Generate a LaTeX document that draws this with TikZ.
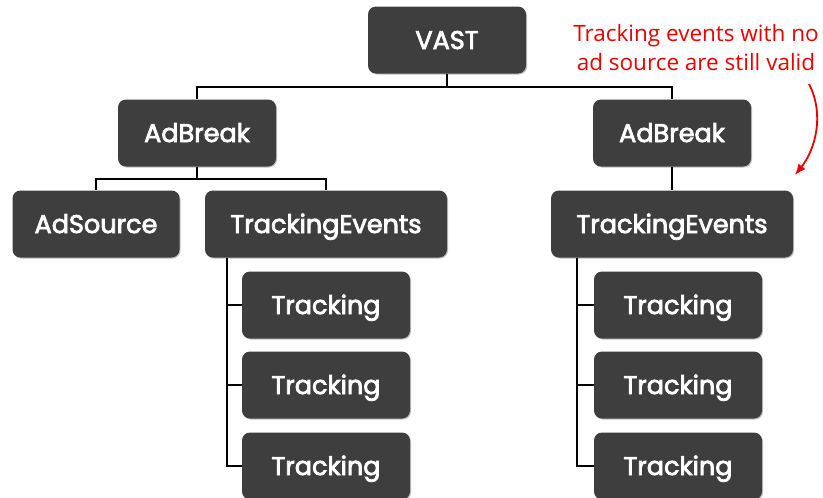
\documentclass[tikz,border=0pt]{standalone}
\usepackage{fontspec}
\newfontfamily\boxfont{Poppins}[FakeBold=3]
\newfontfamily\notefont{Open Sans}
\usetikzlibrary{shadows,arrows.meta}
\definecolor{boxgray}{RGB}{62,62,62}
\definecolor{notered}{RGB}{235,0,0}
\begin{document}
\begin{tikzpicture}[x=1pt,y=-1pt,
  box/.style={draw=none, fill=boxgray, rounded corners=8pt, minimum height=67pt,
    text=white, font=\boxfont\fontsize{25.5}{28}\selectfont, inner sep=0pt,
    text height=18pt, text depth=0pt,
    drop shadow={shadow xshift=1pt, shadow yshift=-1pt, opacity=0.25, fill=black}},
  link/.style={draw=black, line width=1.4pt},
  note/.style={text=notered, font=\notefont\fontsize{22.5}{29}\selectfont, align=center, inner sep=0pt}]
\useasboundingbox (0,0) rectangle (823,498);
\fill[white] (0,0) rectangle (823,498);
% nodes
\node[box, minimum width=158pt] (vast) at (447,40) {VAST};
\node[box, minimum width=158pt] (ab1) at (197,133) {AdBreak};
\node[box, minimum width=158pt] (ab2) at (672,133) {AdBreak};
\node[box, minimum width=167pt] (src) at (96,224) {AdSource};
\node[box, minimum width=242pt] (te1) at (326,224) {TrackingEvents};
\node[box, minimum width=242pt] (te2) at (672,224) {TrackingEvents};
\node[box, minimum width=168pt] (t11) at (326,305) {Tracking};
\node[box, minimum width=168pt] (t12) at (326,385) {Tracking};
\node[box, minimum width=168pt] (t13) at (326,466) {Tracking};
\node[box, minimum width=168pt] (t21) at (678,305) {Tracking};
\node[box, minimum width=168pt] (t22) at (678,385) {Tracking};
\node[box, minimum width=168pt] (t23) at (678,466) {Tracking};
% junction coordinates
\coordinate (j0) at (0,87);
\coordinate (j1) at (0,179);
\coordinate (x1) at (227,0);
\coordinate (x2) at (577,0);
% connectors
\draw[link] (vast.south) -- (vast.south |- j0) -| (ab1.north);
\draw[link] (vast.south |- j0) -| (ab2.north);
\draw[link] (ab1.south) -- (ab1.south |- j1) -| (src.north);
\draw[link] (ab1.south |- j1) -| (te1.north);
\draw[link] (ab2.south) -- (te2.north);
\draw[link] (x1 |- te1.south) |- (t13.west);
\draw[link] (x1 |- t11.west) -- (t11.west);
\draw[link] (x1 |- t12.west) -- (t12.west);
\draw[link] (x2 |- te2.south) |- (t23.west);
\draw[link] (x2 |- t21.west) -- (t21.west);
\draw[link] (x2 |- t22.west) -- (t22.west);
% annotation
\node[note] (note) at (696,48) {Tracking events with no\\ad source are still valid};
\coordinate (arrstart) at (809,84);
\coordinate (arrtip) at (795,175);
\draw[draw=notered, line width=1.8pt, -{Latex[length=11pt,width=9pt]}]
  (arrstart) .. controls (825,115) and (815,150) .. (arrtip);
\end{tikzpicture}
\end{document}
